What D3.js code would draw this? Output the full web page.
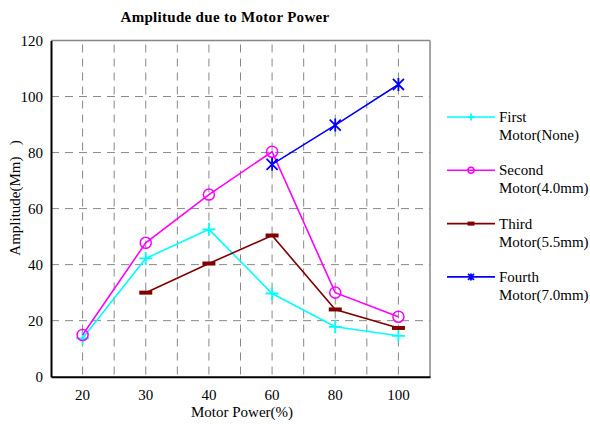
<!DOCTYPE html>
<html><head><meta charset="utf-8">
<script src="https://cdn.jsdelivr.net/npm/d3@7"></script>
<style>body{margin:0;background:#fff}text{font-family:"Liberation Serif","Times New Roman",serif}</style>
</head><body><svg id="c" width="590" height="424"></svg>
<script>
const categories = ["20","30","40","60","80","100"];
const yTicks = [0,20,40,60,80,100,120];
const firstMotor  = [13.7, 42.2, 52.6, 29.7, 17.8, 14.6];
const secondMotor = [14.9, 47.8, 65.0, 80.3, 30.0, 21.4];
const thirdMotor  = [null, 30.0, 40.4, 50.4, 24.0, 17.4];
const fourthMotor = [null, null, null, 75.8, 89.8, 104.3];
const seriesNames = [["First","Motor(None)"],["Second","Motor(4.0mm)"],["Third","Motor(5.5mm)"],["Fourth","Motor(7.0mm)"]];
const seriesColors = ["#00ffff","#ff00ff","#800000","#0000ff"];
const seriesMarkers = ["plus","circle","dash","star"];
const seriesData = [firstMotor, secondMotor, thirdMotor, fourthMotor];

const svg = d3.select("#c");
const L=51, R=430, T=40.5, B=376.7;
const x = d3.scaleBand().domain(categories).range([L,R]).padding(0);
const y = d3.scaleLinear().domain([0,120]).range([B,T]);
const cx = c => x(c)+x.bandwidth()/2;

// gridlines
const g = svg.append("g");
yTicks.slice(1,-1).forEach(t=>{
  g.append("line").attr("x1",L).attr("x2",R).attr("y1",y(t)).attr("y2",y(t))
   .attr("stroke","#888").attr("stroke-width",1).attr("stroke-dasharray","8,6");
});
categories.forEach((c,i)=>{
  g.append("line").attr("x1",cx(c)).attr("x2",cx(c)).attr("y1",T).attr("y2",B)
   .attr("stroke","#888").attr("stroke-dasharray","8,6").attr("stroke-dashoffset",-4);
  if(i>0) g.append("line").attr("x1",x(c)).attr("x2",x(c)).attr("y1",T).attr("y2",B)
   .attr("stroke","#888").attr("stroke-dasharray","8,6").attr("stroke-dashoffset",-4);
});
// frame
svg.append("line").attr("x1",L).attr("x2",R).attr("y1",T).attr("y2",T).attr("stroke","#888").attr("stroke-width",1.5);
svg.append("line").attr("x1",R).attr("x2",R).attr("y1",T).attr("y2",B).attr("stroke","#888").attr("stroke-width",1.5);

// axes
const yAxis = d3.axisLeft(y).tickValues(yTicks).tickSize(0).tickPadding(8);
const ya = svg.append("g").attr("transform",`translate(${L},0)`).call(yAxis);
ya.select(".domain").attr("stroke","#000").attr("stroke-width",2);
ya.selectAll("text").attr("font-size",15).attr("fill","#000").style("font-family","Liberation Serif");
const xAxis = d3.axisBottom(x).tickSize(0).tickPadding(13);
const xa = svg.append("g").attr("transform",`translate(0,${B})`).call(xAxis);
xa.select(".domain").attr("stroke","#000").attr("stroke-width",2);
xa.selectAll("text").attr("font-size",15).attr("fill","#000").style("font-family","Liberation Serif");

// series
function marker(sel, type, color, s){
  if(type==="plus"){
    sel.append("path").attr("d",`M${-s},0H${s}M0,${-s}V${s}`).attr("stroke",color).attr("stroke-width",1.8);
  } else if(type==="circle"){
    sel.append("circle").attr("r",s*0.85).attr("fill","none").attr("stroke",color).attr("stroke-width",1.5);
  } else if(type==="dash"){
    sel.append("rect").attr("x",-s).attr("y",-2).attr("width",2*s).attr("height",4).attr("fill",color);
  } else {
    const a=s*0.85;
    sel.append("path").attr("d",`M${-a},${-a}L${a},${a}M${-a},${a}L${a},${-a}M0,${-s}V${s}`).attr("stroke",color).attr("stroke-width",1.8);
  }
}
const line = d3.line().defined(d=>d.v!=null).x(d=>cx(d.c)).y(d=>y(d.v));
seriesData.forEach((arr,si)=>{
  const pts = categories.map((c,i)=>({c, v:arr[i]}));
  svg.append("path").datum(pts).attr("d",line).attr("fill","none")
    .attr("stroke",seriesColors[si]).attr("stroke-width",1.6);
  pts.filter(d=>d.v!=null).forEach(d=>{
    marker(svg.append("g").attr("transform",`translate(${cx(d.c)},${y(d.v)})`), seriesMarkers[si], seriesColors[si], 6.5);
  });
});

// legend
seriesNames.forEach((nm,i)=>{
  const ly = 117 + i*53.3;
  svg.append("line").attr("x1",447).attr("x2",495).attr("y1",ly).attr("y2",ly).attr("stroke",seriesColors[i]).attr("stroke-width",1.6);
  marker(svg.append("g").attr("transform",`translate(471,${ly})`), seriesMarkers[i], seriesColors[i], 3.5);
  svg.append("text").attr("x",499).attr("y",ly+5).attr("font-size",15).text(nm[0]);
  svg.append("text").attr("x",499).attr("y",ly+23).attr("font-size",15).text(nm[1]);
});

// titles
svg.append("text").attr("x",225).attr("y",22).attr("text-anchor","middle").attr("font-size",15).attr("font-weight","bold").attr("letter-spacing",0.3).text("Amplitude due to Motor Power");
svg.append("text").attr("x",242).attr("y",417).attr("text-anchor","middle").attr("font-size",15).text("Motor Power(%)");
svg.append("text").attr("transform","translate(20,198) rotate(-90)").attr("text-anchor","middle").attr("font-size",15).attr("xml:space","preserve").text("Amplitude(Mm)   )");
</script></body></html>
